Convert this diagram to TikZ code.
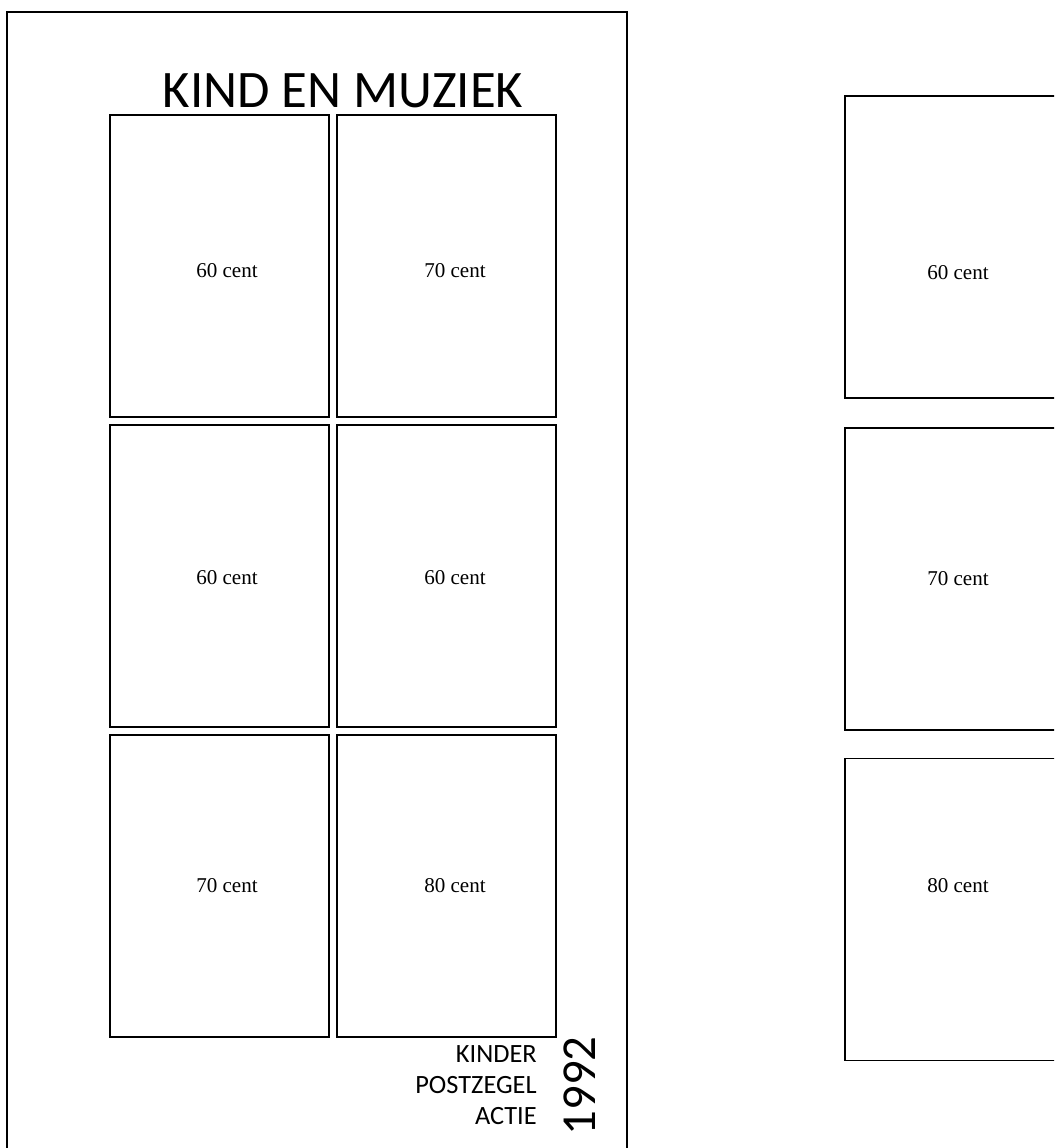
\documentclass[tikz,border=0pt]{standalone}
\usepackage{fontspec}
\setmainfont{Liberation Serif}
\newfontfamily\carlito{Carlito}
\usetikzlibrary{positioning}

\begin{document}
\begin{tikzpicture}[x=0.02cm,y=-0.02cm,
	zegel/.style={draw,line width=0.8pt,minimum width=4.38cm,minimum height=6.04cm,inner sep=0pt},
	waarde/.style={font=\fontsize{12}{14}\selectfont,inner sep=0pt}]
	\useasboundingbox (0,0) rectangle (1054,1148);
	\clip (0,0) rectangle (1054,1148);
	\draw[line width=0.6pt] (7,12) rectangle (627,1170);
	\node[font=\carlito\fontsize{30}{32}\selectfont] (titel) at (343,91) {KIND EN MUZIEK};
	\node[zegel] (z1) at (219.5,266) {};
	\node[zegel] (z2) at (446.5,266) {};
	\node[zegel] (z3) at (219.5,576) {};
	\node[zegel] (z4) at (446.5,576) {};
	\node[zegel] (z5) at (219.5,886) {};
	\node[zegel] (z6) at (446.5,886) {};
	\node[waarde] (w1) at (227,271) {60 cent};
	\node[waarde] (w2) at (455,271) {70 cent};
	\node[waarde] (w3) at (227,578) {60 cent};
	\node[waarde] (w4) at (455,578) {60 cent};
	\node[waarde] (w5) at (227,886) {70 cent};
	\node[waarde] (w6) at (455,886) {80 cent};
	\node[font=\carlito\fontsize{15}{17.6}\selectfont,align=right,anchor=east,inner sep=0pt] (actie) at (537,1085) {KINDER\\POSTZEGEL\\ACTIE};
	\node[font=\carlito\fontsize{27.8}{30}\selectfont,rotate=90] (jaar) at (580,1086) {1992};
	\node[zegel] (r1) at (954.5,247) {};
	\node[zegel] (r2) at (954.5,579) {};
	\node[zegel] (r3) at (954.5,909.5) {};
	\node[waarde] (v1) at (958,273) {60 cent};
	\node[waarde] (v2) at (958,579) {70 cent};
	\node[waarde] (v3) at (958,886) {80 cent};
\end{tikzpicture}
\end{document}
